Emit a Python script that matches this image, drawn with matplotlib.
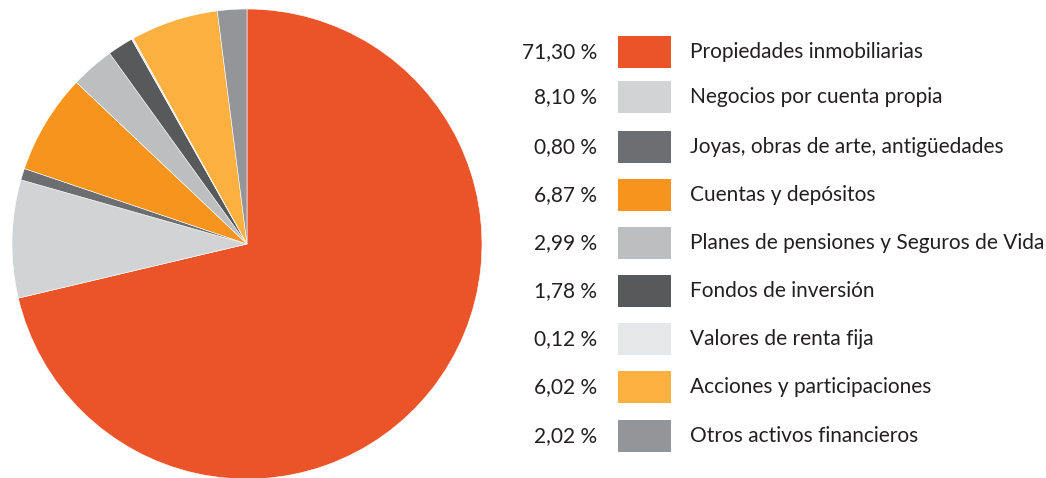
import matplotlib
matplotlib.use("Agg")
import matplotlib.pyplot as plt
from matplotlib.patches import Rectangle

labels = ["Propiedades inmobiliarias", "Negocios por cuenta propia",
          "Joyas, obras de arte, antigüedades", "Cuentas y depósitos",
          "Planes de pensiones y Seguros de Vida", "Fondos de inversión",
          "Valores de renta fija", "Acciones y participaciones",
          "Otros activos financieros"]
values = [71.30, 8.10, 0.80, 6.87, 2.99, 1.78, 0.12, 6.02, 2.02]
pct_labels = ["71,30 %", "8,10 %", "0,80 %", "6,87 %", "2,99 %", "1,78 %",
              "0,12 %", "6,02 %", "2,02 %"]
colors = ["#EB5428", "#D1D3D4", "#6D6E71", "#F7941E", "#BCBEC0",
          "#58595B", "#E6E7E8", "#FBB040", "#939598"]

W, H = 1046, 478
fig = plt.figure(figsize=(W / 100, H / 100), dpi=100)
ax = fig.add_axes([0, 0, 1, 1])
ax.pie(values, colors=colors, startangle=90, counterclock=False,
       center=(247, H - 244), radius=235,
       wedgeprops=dict(linewidth=0.4, edgecolor="white"))
ax.set_xlim(0, W)
ax.set_ylim(0, H)
ax.set_aspect("auto")
ax.axis("off")

txt_color = "#231F20"
font = "Lato"
row_y = [51.7, 96.8, 146.8, 194.8, 242.8, 290.8, 338.8, 386.8, 435.8]
for ry, lab, pct, col in zip(row_y, labels, pct_labels, colors):
    yc = H - ry
    ax.add_patch(Rectangle((618, yc - 16), 53, 32, facecolor=col, edgecolor="none"))
    ax.text(597, yc, pct, ha="right", va="center", fontsize=15,
            color=txt_color, family=font)
    ax.text(690, yc, lab, ha="left", va="center", fontsize=15,
            color=txt_color, family=font)

fig.savefig("out.png", dpi=100)
